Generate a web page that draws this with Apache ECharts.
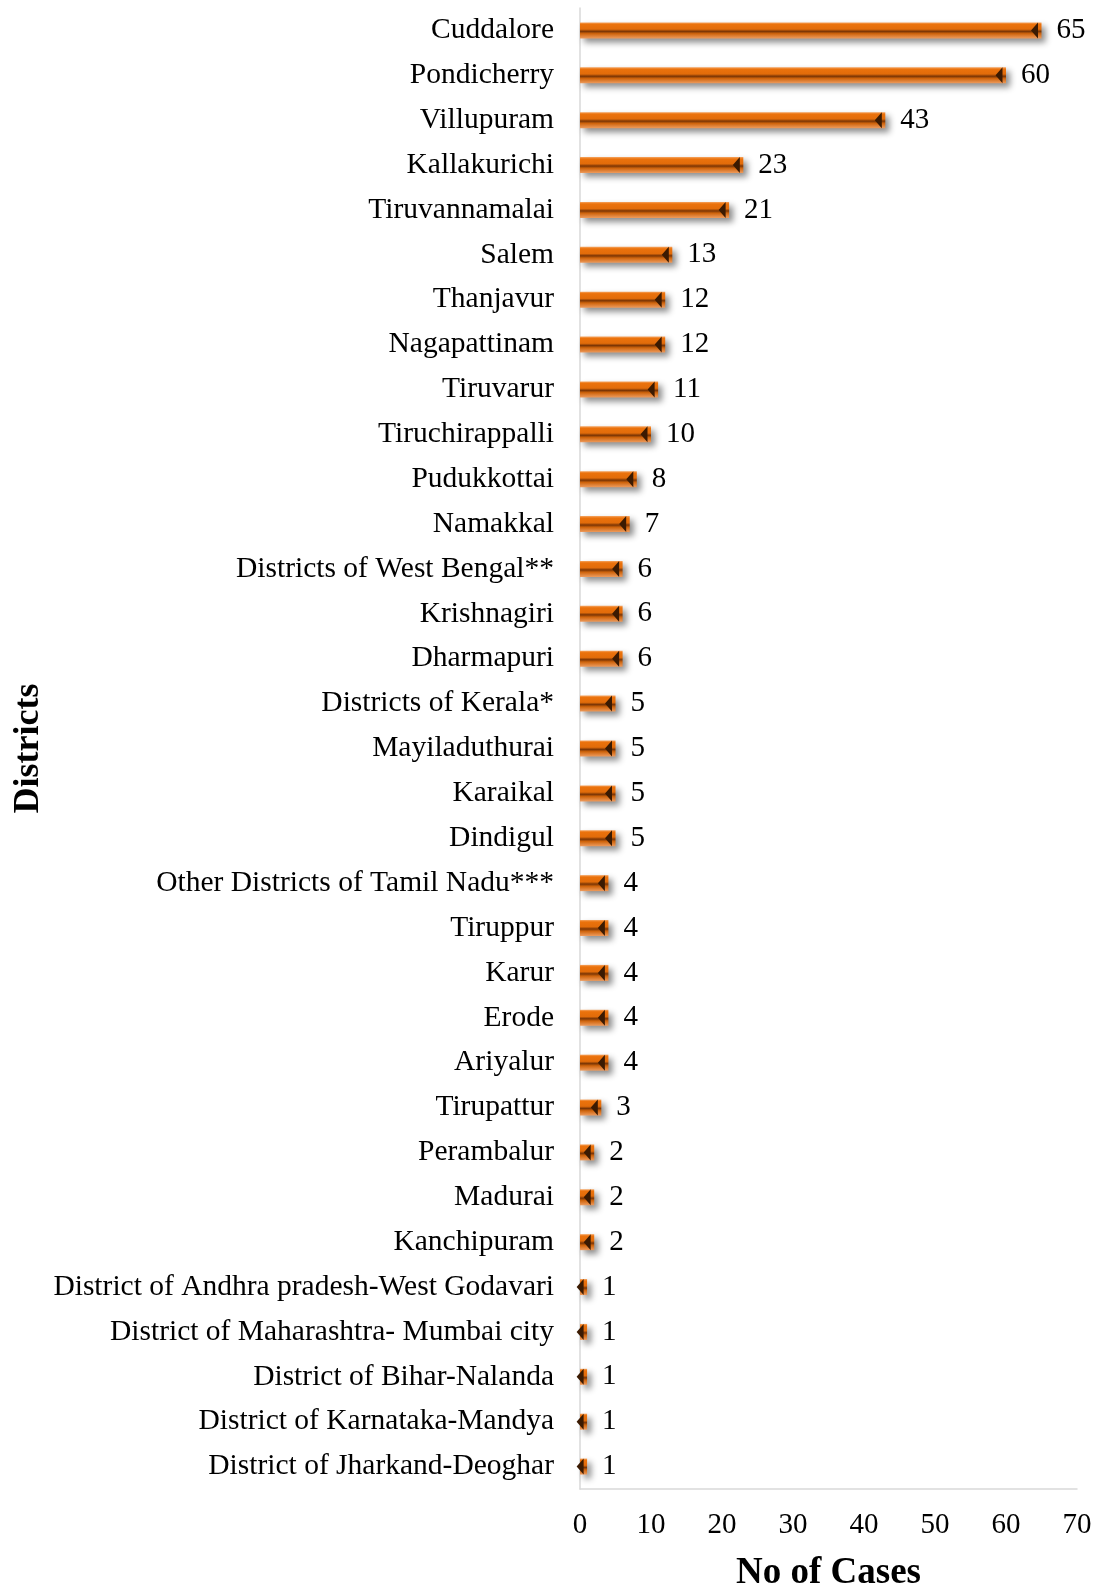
<!DOCTYPE html>
<html>
<head>
<meta charset="utf-8">
<script src="https://cdn.jsdelivr.net/npm/echarts@6/dist/echarts.min.js"></script>
<style>
  html, body { margin: 0; padding: 0; background: #fff; }
  #mainChart { width: 1095px; height: 1585px; }
</style>
</head>
<body>
<div id="mainChart"></div>
<script>
var districts = ['Cuddalore', 'Pondicherry', 'Villupuram', 'Kallakurichi', 'Tiruvannamalai', 'Salem',
    'Thanjavur', 'Nagapattinam', 'Tiruvarur', 'Tiruchirappalli', 'Pudukkottai', 'Namakkal',
    'Districts of West Bengal**', 'Krishnagiri', 'Dharmapuri', 'Districts of Kerala*', 'Mayiladuthurai',
    'Karaikal', 'Dindigul', 'Other Districts of Tamil Nadu***', 'Tiruppur', 'Karur', 'Erode', 'Ariyalur',
    'Tirupattur', 'Perambalur', 'Madurai', 'Kanchipuram', 'District of Andhra pradesh-West Godavari',
    'District of Maharashtra- Mumbai city', 'District of Bihar-Nalanda', 'District of Karnataka-Mandya',
    'District of Jharkand-Deoghar'];
var cases = [65, 60, 43, 23, 21, 13, 12, 12, 11, 10, 8, 7, 6, 6, 6, 5, 5, 5, 5, 4, 4, 4, 4, 4, 3, 2, 2, 2, 1, 1, 1, 1, 1];
var xTicks = [0, 10, 20, 30, 40, 50, 60, 70];

var font = '"Liberation Serif", "Times New Roman", serif';
var myChart = echarts.init(document.getElementById('mainChart'));

myChart.setOption({
    animation: false,
    grid: {left: 580, right: 18, top: 8, bottom: 96, outerBoundsMode: 'none', containLabel: false},
    xAxis: {
        type: 'value',
        min: xTicks[0],
        max: xTicks[xTicks.length - 1],
        interval: 10,
        name: 'No of Cases',
        nameLocation: 'middle',
        nameGap: 66,
        nameTextStyle: {fontFamily: font, fontWeight: 'bold', fontSize: 37, color: '#000'},
        axisLine: {show: true, lineStyle: {color: '#d9d9d9', width: 1.5}},
        axisTick: {show: false},
        splitLine: {show: false},
        axisLabel: {fontFamily: font, fontSize: 29, color: '#000', margin: 22}
    },
    yAxis: {
        type: 'category',
        inverse: true,
        data: districts,
        name: 'Districts',
        nameLocation: 'middle',
        nameRotate: 90,
        nameGap: 533,
        nameTextStyle: {fontFamily: font, fontWeight: 'bold', fontSize: 36, color: '#000'},
        axisLine: {show: true, lineStyle: {color: '#d9d9d9', width: 1.5}},
        axisTick: {show: false},
        axisLabel: {fontFamily: font, fontSize: 29.5, color: '#000', margin: 26}
    },
    series: [{
        name: 'No of Cases',
        type: 'bar',
        data: cases,
        barWidth: 16,
        itemStyle: {
            color: new echarts.graphic.LinearGradient(0, 0, 0, 1, [
                {offset: 0, color: '#f5a460'},
                {offset: 0.12, color: '#eb720c'},
                {offset: 0.42, color: '#e26c0a'},
                {offset: 0.56, color: '#7a3505'},
                {offset: 0.7, color: '#cf640c'},
                {offset: 1, color: '#ee9c5e'}
            ]),
            shadowColor: 'rgba(0,0,0,0.45)',
            shadowBlur: 6,
            shadowOffsetX: 4,
            shadowOffsetY: 4
        },
        label: {
            show: true,
            position: 'right',
            distance: 15,
            fontFamily: font,
            fontSize: 29,
            color: '#000'
        }
    }, {
        name: 'cap',
        type: 'pictorialBar',
        data: cases,
        symbol: 'path://M10,0 L10,10 L0,5 Z',
        symbolSize: [7, 16],
        symbolPosition: 'end',
        symbolOffset: ['-50%', 0],
        barGap: '-100%',
        itemStyle: {color: '#3a1a02'},
        z: 3
    }]
});
</script>
</body>
</html>
